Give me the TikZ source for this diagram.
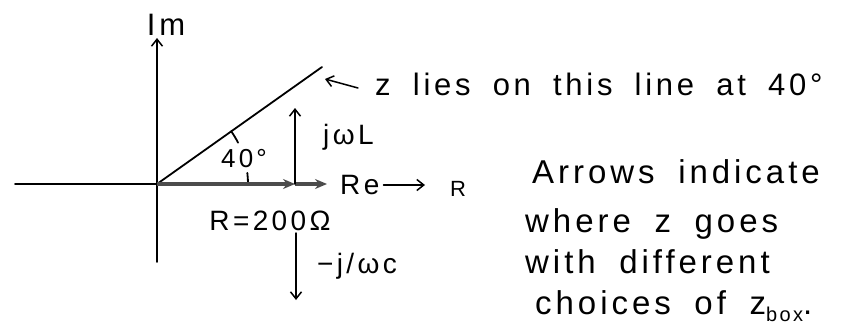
\documentclass[tikz,border=0pt]{standalone}
\usepackage{fontspec}
\setmainfont{Liberation Sans}
\newfontfamily\handfont[LetterSpace=12,WordSpace=1.8]{Liberation Sans}
\usetikzlibrary{arrows.meta,positioning}
\tikzset{
  axis/.style={line width=1.8pt, line cap=round},
  thinarrow/.style={-{Straight Barb[length=7pt,width=11pt]}, line width=1.5pt, line cap=round},
  thickarrow/.style={-{Stealth[length=12pt,width=10pt]}, line width=3.2pt, draw=black!70},
  lbl/.style={inner sep=0pt, font=\handfont\fontsize{28}{32}\selectfont},
  note/.style={inner sep=0pt, anchor=base west, font=\handfont\fontsize{33}{38}\selectfont}
}

\begin{document}
\begin{tikzpicture}[x=1pt,y=1pt]
\useasboundingbox (-157,-143) rectangle (691,184);
% axes
\coordinate (O) at (0,0);
\coordinate (imtop) at (0,146);
\coordinate (imbot) at (0,-78);
\coordinate (releft) at (-142,0);
\node[lbl, font=\handfont\fontsize{31}{34}\selectfont] (im) at (9,159) {Im};
\draw[thinarrow] (imbot) -- (imtop);
\draw[axis] (releft) -- (O);
% line of z at 40 deg
\coordinate (zend) at (165,117);
\draw[axis] (O) -- (zend);
\draw[axis] (91,0) arc[start angle=0, end angle=7, radius=91];
\draw[axis] (27:91) arc[start angle=27, end angle=35.3, radius=91];
\node[lbl, font=\handfont\fontsize{26}{30}\selectfont] (ang) at (87,25) {40°};
% R arrows
\coordinate (r1) at (138,0);
\coordinate (r2) at (170,0);
\draw[thickarrow] (O) -- (r1);
\draw[thickarrow] (r1) -- (r2);
\node[lbl] (rval) at (113,-37) {R=200Ω};
\node[lbl, anchor=west] (re) at (183,-1) {Re};
\node[lbl, anchor=west, font=\handfont\fontsize{22}{26}\selectfont] (rr) at (293,-5) {R};
\draw[thinarrow, shorten <=4pt, shorten >=25pt] (re.east) -- (re.east -| rr.west);
% inductive and capacitive parts
\coordinate (lup) at (138,76);
\draw[thinarrow] (r1) -- (lup);
\node[lbl, anchor=west] (jwl) at (166,47) {jωL};
\coordinate (ctop) at (139,-49);
\coordinate (cbot) at (139,-116);
\draw[thinarrow] (ctop) -- (cbot);
\node[lbl, anchor=west] (jwc) at (160,-82) {−j/ωc};
% notes
\node[note, anchor=west, font=\handfont\fontsize{31}{36}\selectfont] (zline) at (218,100) {z lies on this line at 40°};
\draw[thinarrow] ([xshift=-17pt,yshift=-4pt]zline.west) -- ([shift={(3pt,-12pt)}]zend);
\node[note] (l1) at (375,1) {Arrows indicate};
\node[note] (l2) at (368,-48) {where z goes};
\node[note] (l3) at (368,-89) {with different};
\node[note] (l4) at (378,-130) {choices of z\raisebox{-7pt}{\fontsize{20}{20}\selectfont box}.};
\end{tikzpicture}
\end{document}
